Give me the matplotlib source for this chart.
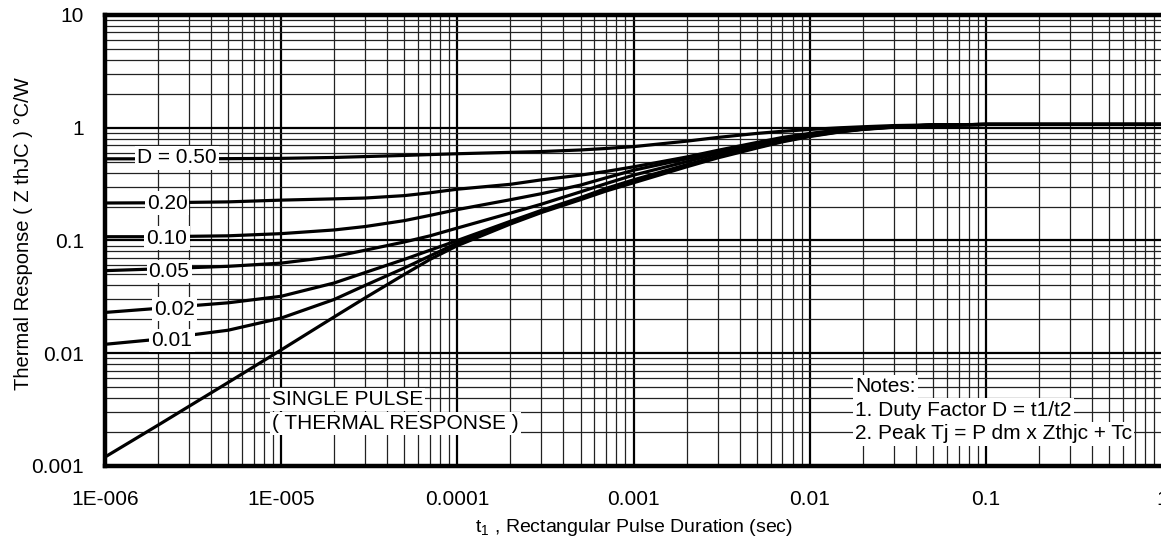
import matplotlib
matplotlib.use('Agg')
import matplotlib.pyplot as plt
from matplotlib.ticker import FixedLocator, LogLocator, NullFormatter

plt.rcParams['font.family'] = ['Liberation Sans', 'DejaVu Sans']
plt.rcParams['mathtext.fontset'] = 'custom'
plt.rcParams['mathtext.rm'] = 'Liberation Sans'

# pulse duration (sec)
t = [1e-6, 2e-6, 5e-6, 1e-5, 2e-5, 3e-5, 5e-5, 7e-5, 1e-4, 2e-4, 3e-4, 5e-4, 7e-4,
     1e-3, 2e-3, 3e-3, 5e-3, 7e-3, 1e-2, 1.5e-2, 2e-2, 3e-2, 5e-2, 1e-1, 1]

# thermal response (C/W) per duty factor
z_050 = [0.53, 0.53, 0.532, 0.535, 0.545, 0.555, 0.568, 0.578, 0.588, 0.605, 0.615, 0.635, 0.655,
         0.68, 0.76, 0.82, 0.89, 0.93, 0.965, 1.0, 1.02, 1.045, 1.06, 1.07, 1.07]
z_020 = [0.215, 0.216, 0.22, 0.228, 0.234, 0.238, 0.25, 0.265, 0.285, 0.315, 0.345, 0.38, 0.41,
         0.45, 0.55, 0.63, 0.74, 0.82, 0.89, 0.96, 0.99, 1.03, 1.055, 1.07, 1.07]
z_010 = [0.108, 0.108, 0.11, 0.115, 0.124, 0.133, 0.15, 0.167, 0.188, 0.23, 0.26, 0.31, 0.36,
         0.42, 0.53, 0.61, 0.72, 0.80, 0.88, 0.95, 0.985, 1.03, 1.055, 1.07, 1.07]
z_005 = [0.054, 0.056, 0.059, 0.063, 0.072, 0.082, 0.097, 0.11, 0.129, 0.175, 0.21, 0.27, 0.32,
         0.38, 0.50, 0.59, 0.70, 0.79, 0.87, 0.94, 0.98, 1.025, 1.055, 1.07, 1.07]
z_002 = [0.023, 0.025, 0.028, 0.032, 0.042, 0.052, 0.068, 0.082, 0.10, 0.148, 0.185, 0.24, 0.29,
         0.345, 0.47, 0.56, 0.68, 0.77, 0.855, 0.93, 0.975, 1.02, 1.055, 1.07, 1.07]
z_001 = [0.012, 0.0133, 0.016, 0.0205, 0.03, 0.04, 0.057, 0.073, 0.095, 0.143, 0.18, 0.235, 0.283,
         0.335, 0.46, 0.55, 0.67, 0.76, 0.845, 0.925, 0.97, 1.015, 1.055, 1.07, 1.07]
z_single = [0.0012, 0.0023, 0.0055, 0.0107, 0.021, 0.031, 0.05, 0.068, 0.09, 0.14, 0.177, 0.23, 0.275,
            0.325, 0.45, 0.54, 0.66, 0.75, 0.835, 0.92, 0.965, 1.01, 1.05, 1.07, 1.07]

curves = [z_050, z_020, z_010, z_005, z_002, z_001, z_single]
labels = ['D = 0.50', '0.20', '0.10', '0.05', '0.02', '0.01']

x_ticks = [1e-6, 1e-5, 1e-4, 1e-3, 1e-2, 1e-1, 1]
x_ticklabels = ['1E-006', '1E-005', '0.0001', '0.001', '0.01', '0.1', '1']
y_ticks = [0.001, 0.01, 0.1, 1, 10]
y_ticklabels = ['0.001', '0.01', '0.1', '1', '10']

fig = plt.figure(figsize=(11.61, 5.51), dpi=100)
ax = fig.add_axes([0.0904, 0.1543, 0.9106, 0.8185])

for z in curves:
    ax.plot(t, z, color='black', lw=2.3, solid_capstyle='butt', zorder=3)

ax.set_xscale('log')
ax.set_yscale('log')
ax.set_xlim(1e-6, 1)
ax.set_ylim(0.001, 10)

ax.xaxis.set_major_locator(FixedLocator(x_ticks))
ax.set_xticklabels(x_ticklabels)
ax.yaxis.set_major_locator(FixedLocator(y_ticks))
ax.set_yticklabels(y_ticklabels)
ax.xaxis.set_minor_locator(LogLocator(base=10, subs=range(2, 10), numticks=20))
ax.yaxis.set_minor_locator(LogLocator(base=10, subs=range(2, 10), numticks=20))
ax.xaxis.set_minor_formatter(NullFormatter())
ax.yaxis.set_minor_formatter(NullFormatter())

ax.grid(which='major', color='black', lw=1.6)
ax.grid(which='minor', color='#222222', lw=0.9)
ax.set_axisbelow(True)
ax.tick_params(which='both', length=0, labelsize=15)
ax.tick_params(axis='x', pad=17)
ax.tick_params(axis='y', pad=15)

for side in ['left', 'top', 'bottom']:
    ax.spines[side].set_linewidth(3.2)
ax.spines['right'].set_visible(False)

ax.set_xlabel('t$_1$ , Rectangular Pulse Duration (sec)', fontsize=14)
ax.set_ylabel('Thermal Response ( Z thJC ) °C/W', fontsize=14.5)
ax.xaxis.set_label_coords(0.5, -0.113)
ax.yaxis.set_label_coords(-0.068, 0.515)

box = dict(facecolor='white', edgecolor='none', pad=1.5)
label_pos = [(0.068, 0.683), (0.0587, 0.583), (0.0587, 0.5055),
             (0.0606, 0.432), (0.0662, 0.348), (0.0634, 0.279)]
for lab, (px, py) in zip(labels, label_pos):
    ax.text(px, py, lab, transform=ax.transAxes, ha='center', va='center',
            fontsize=15, bbox=box, zorder=5)

ax.text(0.158, 0.147, 'SINGLE PULSE', transform=ax.transAxes, ha='left', va='center',
        fontsize=15, bbox=box, zorder=5)
ax.text(0.158, 0.095, '( THERMAL RESPONSE )', transform=ax.transAxes, ha='left', va='center',
        fontsize=15, bbox=box, zorder=5)

notes = ['Notes:', '1. Duty Factor D = t1/t2', '2. Peak Tj = P dm x Zthjc + Tc']
for i, n in enumerate(notes):
    ax.text(0.7096, 0.177 - i * 0.053, n, transform=ax.transAxes, ha='left', va='center',
            fontsize=15, bbox=box, zorder=5)

fig.savefig('out.png', dpi=100)
